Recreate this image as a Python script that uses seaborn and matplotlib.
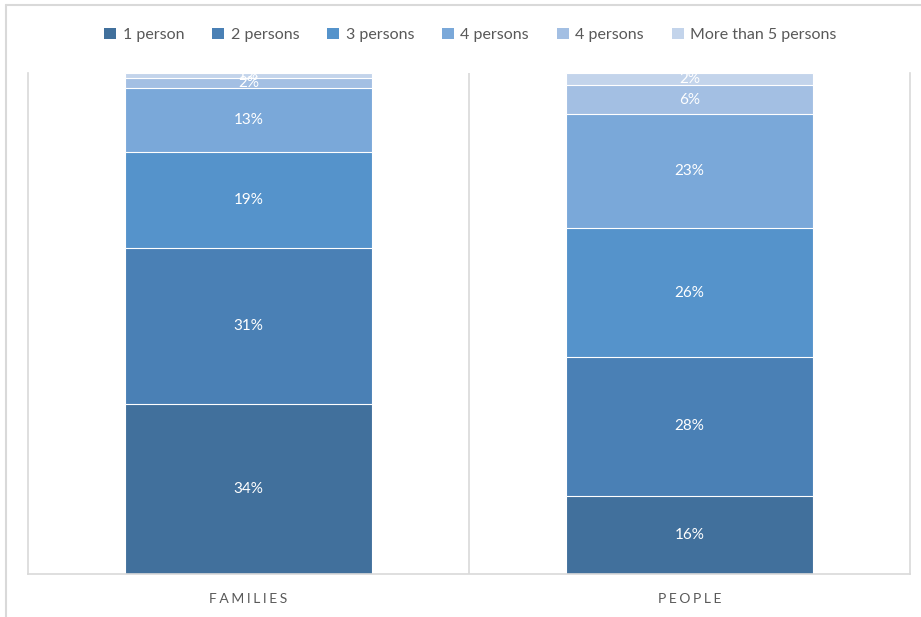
import matplotlib
matplotlib.use("Agg")
import matplotlib.pyplot as plt
import seaborn as sns
import numpy as np
import pandas as pd
from matplotlib.lines import Line2D
from matplotlib.patches import Patch

categories = ["FAMILIES", "PEOPLE"]
series = ["1 person", "2 persons", "3 persons", "4 persons", "4 persons ", "More than 5 persons"]
families = [33.9, 31.1, 19.2, 12.8, 2.0, 1.0]
people = [15.6, 27.7, 25.7, 22.8, 5.8, 2.4]
colors = ["#41709C", "#4A80B5", "#5593CB", "#7AA8D9", "#A3BFE3", "#C3D4EB"]

sns.set_theme(style="white")
plt.rcParams['font.family'] = ['Lato', 'DejaVu Sans']

fig = plt.figure(figsize=(9.21, 6.17), dpi=100)
ax = fig.add_axes([28/921, 1-574/617, (910-28)/921, (574-73)/617])

vals = np.array([families, people])  # shape (2, 6)
cum = np.cumsum(vals, axis=1)

# draw from top cumulative down
for i in range(len(series) - 1, -1, -1):
    df = pd.DataFrame({"cat": categories, "val": cum[:, i]})
    sns.barplot(data=df, x="cat", y="val", color=colors[i], width=0.56,
                saturation=1, edgecolor="white", linewidth=0.8, ax=ax)

for j in range(len(categories)):
    for i in range(len(series)):
        mid = cum[j, i] - vals[j, i] / 2
        ax.text(j, mid, f"{round(vals[j, i]):.0f}%", ha="center", va="center",
                color="white", fontsize=11)

ax.set_ylim(0, 100)
ax.set_xlim(-0.5, 1.5)
ax.set_yticks([])
ax.set_xlabel("")
ax.set_ylabel("")
ax.set_xticks([0, 1])
ax.set_xticklabels(["\u2009\u200a".join(c) for c in categories], color="#595959", fontsize=10)
ax.tick_params(axis="x", length=0, pad=14)

grid_col = "#D9D9D9"
for s in ["left", "right", "bottom"]:
    ax.spines[s].set_color(grid_col)
    ax.spines[s].set_linewidth(1.2)
ax.spines["top"].set_visible(False)
ax.axvline(0.5, color=grid_col, lw=1.2, zorder=0)

handles = [Patch(facecolor=c, edgecolor="none") for c in colors]
leg = fig.legend(handles, [s.strip() for s in series], loc="center",
                 bbox_to_anchor=(0.5 + 10/921, 1-35/617),
                 ncol=6, frameon=False, fontsize=11.5, handlelength=0.75, handleheight=0.75,
                 handletextpad=0.4, columnspacing=1.75)
for t in leg.get_texts():
    t.set_color("#595959")

# outer chart border (top and left visible)
fig.add_artist(Line2D([6/921, 1], [1-5/617, 1-5/617], color=grid_col, lw=1.5, transform=fig.transFigure))
fig.add_artist(Line2D([6/921, 6/921], [0, 1-5/617], color=grid_col, lw=1.5, transform=fig.transFigure))

fig.savefig("out.png", dpi=100)
